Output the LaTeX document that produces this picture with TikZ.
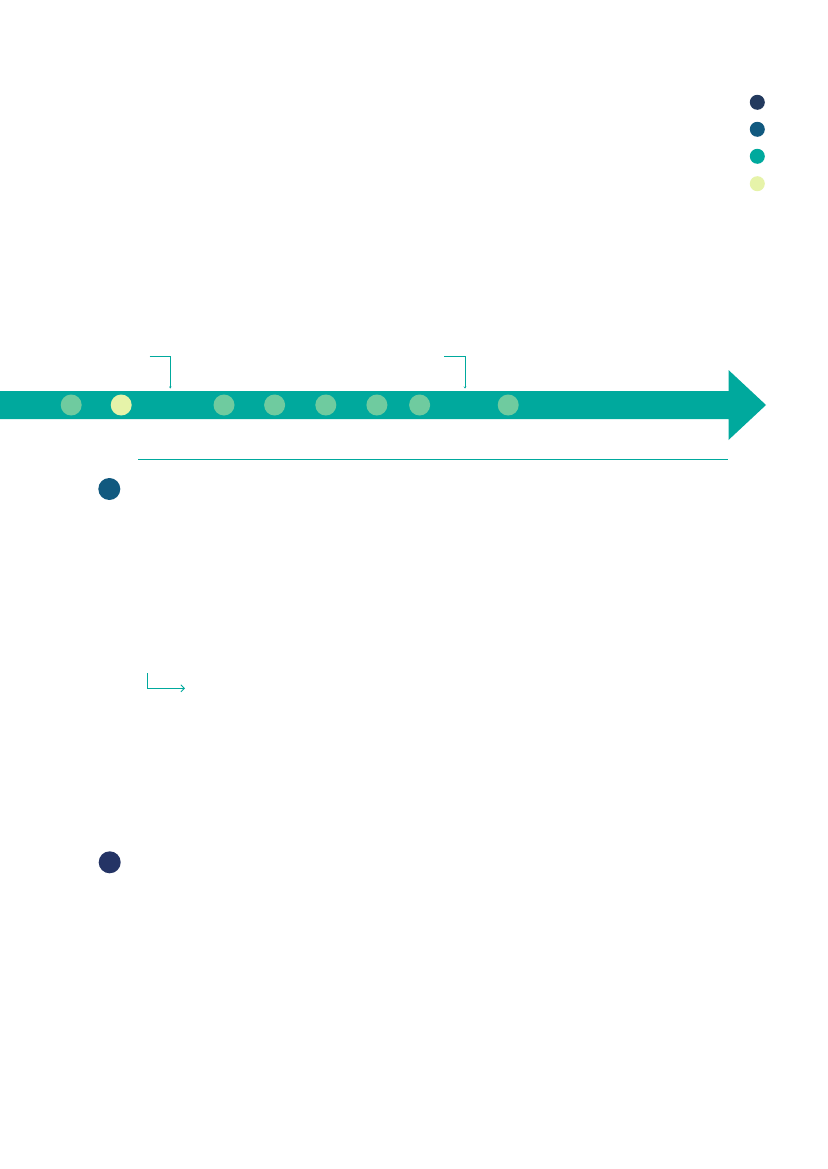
\documentclass[tikz,border=0pt]{standalone}
\usetikzlibrary{arrows.meta}
\definecolor{teal1}{HTML}{00A99D}
\definecolor{mint}{HTML}{6FCB9F}
\definecolor{paleyel}{HTML}{E6F3A9}
\definecolor{navy}{HTML}{233A5E}
\definecolor{navyb}{HTML}{243465}
\definecolor{blue1}{HTML}{11597F}
\begin{document}
\begin{tikzpicture}[x=1pt,y=-1pt,
  dot/.style={circle,inner sep=0pt,minimum size=21pt,draw=none},
  legdot/.style={circle,inner sep=0pt,minimum size=15pt,draw=none},
  bigdot/.style={circle,inner sep=0pt,minimum size=22pt,draw=none},
  bracket/.style={draw=teal1,line width=0.9pt,-{Stealth[length=2pt,width=2.5pt]}},
  elbow/.style={draw=teal1,line width=0.9pt,-{Straight Barb[length=3.5pt,width=7pt]}}]
\useasboundingbox (0,0) rectangle (827,1169);
\fill[white] (0,0) rectangle (827,1169);
% legend
\node[legdot,fill=navy] (l1) at (757.3,102.3) {};
\node[legdot,fill=blue1] (l2) at (757.3,129.3) {};
\node[legdot,fill=teal1] (l3) at (757.3,156.3) {};
\node[legdot,fill=paleyel] (l4) at (757.3,183.7) {};
% timeline band
\fill[teal1] (0,391) -- (728.5,391) -- (728.5,370) -- (766,405) -- (728.5,440) -- (728.5,419) -- (0,419) -- cycle;
% dots on band
\node[dot,fill=mint] (d1) at (71.2,405) {};
\node[dot,fill=paleyel] (d2) at (121.2,405) {};
\node[dot,fill=mint] (d3) at (224,405) {};
\node[dot,fill=mint] (d4) at (274.6,405) {};
\node[dot,fill=mint] (d5) at (325.8,405) {};
\node[dot,fill=mint] (d6) at (376.9,405) {};
\node[dot,fill=mint] (d7) at (419.6,405) {};
\node[dot,fill=mint] (d8) at (508.2,405) {};
% brackets
\coordinate (b1s) at (149.5,356);
\coordinate (b1c) at (170.3,356);
\coordinate (b1e) at (170.3,388.5);
\draw[bracket] (b1s) -- (b1c) -- (b1e);
\coordinate (b2s) at (444.3,356);
\coordinate (b2c) at (465,356);
\coordinate (b2e) at (465,388.5);
\draw[bracket] (b2s) -- (b2c) -- (b2e);
% underline
\coordinate (u1) at (138,459);
\coordinate (u2) at (728,459);
\draw[teal1,line width=0.9pt] (u1) -- (u2);
% section dots
\node[bigdot,fill=blue1] (s1) at (109.3,489) {};
\node[bigdot,fill=navyb] (s2) at (109.7,862.3) {};
% elbow arrow
\coordinate (e1) at (147.3,673);
\coordinate (e2) at (147.3,688.3);
\coordinate (e3) at (185,688.3);
\draw[elbow] (e1) -- (e2) -- (e3);
\end{tikzpicture}
\end{document}
